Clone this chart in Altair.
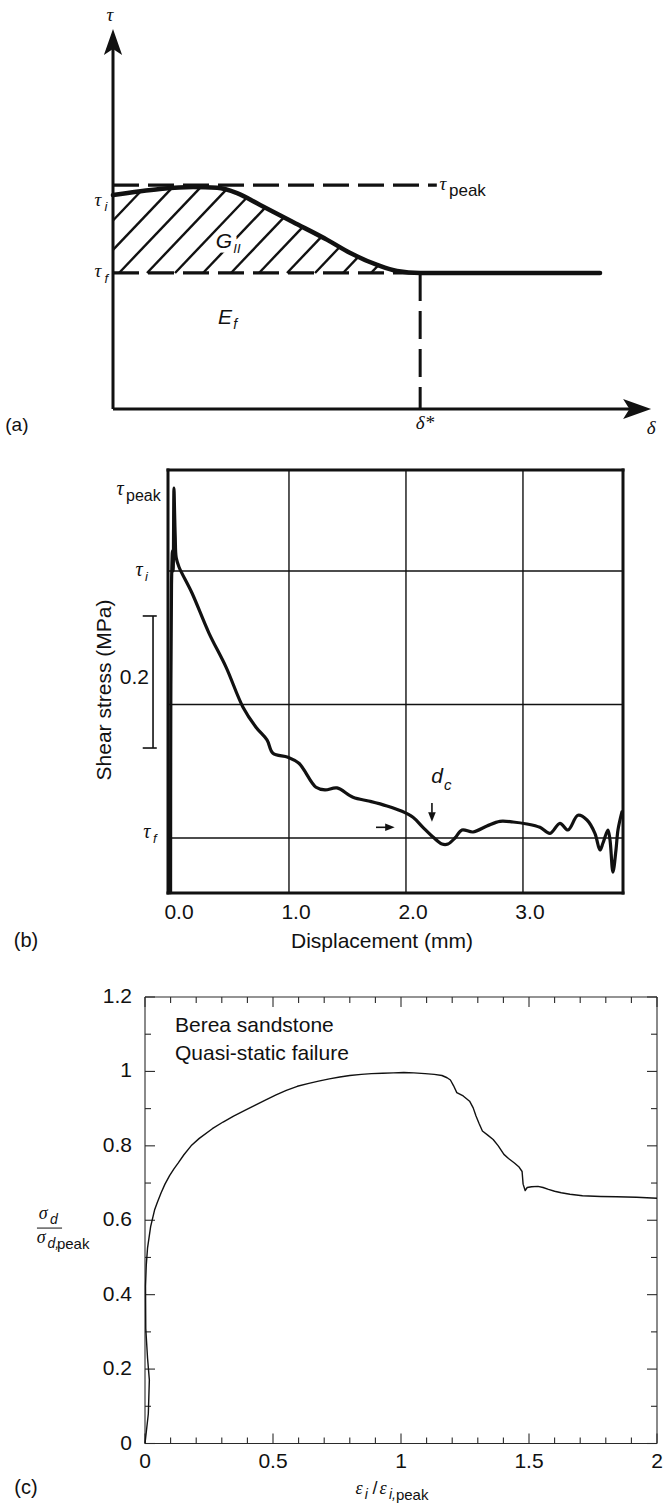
import altair as alt
import pandas as pd

SANS = "Liberation Sans"
SERIF = "Liberation Serif"
INK = "#111111"

# ===================== Panel (a): schematic =====================
a_curve_x = [0.0, 8.75, 14.9, 19.4, 23.1, 27.4, 33.5, 39.9, 44.1, 49.2, 52.9, 57.2, 90.7]
a_curve_y = [56.3, 57.9, 58.4, 58.2, 56.8, 53.7, 49.2, 44.5, 41.1, 37.9, 36.3, 35.8, 35.8]
a_tau_peak = 58.9
a_tau_f = 35.8
a_delta_star = 57.2
a_peak_dash_end = 60.3
a_axis_top = 96.6
a_axis_right = 97.6
a_hatch_intercepts = [-9.31, -4.10, 1.12, 6.33, 11.55, 16.76, 21.97, 27.19,
                      32.40, 37.62, 42.83, 48.04, 53.26]
a_hatch_slope = 1.484

# ===================== Panel (b): shear stress =====================
b_x = [-0.012, -0.010, -0.004, 0.004, 0.010, 0.017, 0.022, 0.028, 0.036, 0.060,
       0.171, 0.316, 0.462, 0.607, 0.718, 0.812, 0.863, 0.991, 1.085, 1.231,
       1.308, 1.410, 1.547, 1.692, 1.838, 1.966, 2.060, 2.145, 2.231, 2.308,
       2.359, 2.419, 2.479, 2.573, 2.692, 2.803, 2.915, 3.034, 3.145, 3.231,
       3.316, 3.385, 3.470, 3.547, 3.615, 3.658, 3.684, 3.726, 3.744, 3.769,
       3.795, 3.812, 3.846]
b_y = [0.018, 0.300, 0.480, 0.530, 0.500, 0.624, 0.590, 0.550, 0.520, 0.506,
       0.467, 0.407, 0.356, 0.296, 0.266, 0.247, 0.227, 0.221, 0.212, 0.176,
       0.172, 0.175, 0.161, 0.155, 0.148, 0.140, 0.131, 0.116, 0.1015, 0.091,
       0.091, 0.100, 0.112, 0.109, 0.118, 0.125, 0.124, 0.121, 0.116, 0.107,
       0.122, 0.112, 0.134, 0.127, 0.107, 0.082, 0.0925, 0.112, 0.097, 0.049,
       0.082, 0.112, 0.139]
b_xlim = [-0.034, 3.855]
b_ylim = [0.0176, 0.6513]
b_grid_x = [1.0, 2.0, 3.0]
b_grid_y = [0.1, 0.3, 0.5]          # tau_f, (middle), tau_i
b_tick_vals = [0.0, 1.0, 2.0, 3.0]
b_tick_labels = ["0.0", "1.0", "2.0", "3.0"]
b_bar = [0.2348, 0.4326]            # 0.2 MPa scale bar

# ===================== Panel (c): Berea sandstone =====================
c_x = [0.000, 0.013, 0.017, 0.010, 0.003, 0.002, 0.005, 0.010, 0.022, 0.038,
       0.048, 0.063, 0.078, 0.096, 0.113, 0.130, 0.152, 0.180, 0.212, 0.263,
       0.305, 0.346, 0.390, 0.429, 0.470, 0.512, 0.552, 0.595, 0.640, 0.678,
       0.720, 0.761, 0.800, 0.845, 0.885, 0.928, 0.970, 1.011, 1.050, 1.094,
       1.130, 1.160, 1.180, 1.193, 1.205, 1.218, 1.243, 1.268, 1.282, 1.293,
       1.305, 1.318, 1.340, 1.360, 1.380, 1.402, 1.420, 1.443, 1.460, 1.473,
       1.477, 1.485, 1.493, 1.510, 1.535, 1.555, 1.576, 1.600, 1.626, 1.660,
       1.709, 1.780, 1.842, 1.920, 2.000]
c_y = [0.000, 0.080, 0.171, 0.229, 0.309, 0.423, 0.480, 0.526, 0.583, 0.629,
       0.648, 0.674, 0.697, 0.720, 0.738, 0.754, 0.776, 0.800, 0.820, 0.846,
       0.864, 0.880, 0.895, 0.909, 0.923, 0.937, 0.949, 0.960, 0.968, 0.974,
       0.980, 0.985, 0.989, 0.992, 0.994, 0.995, 0.996, 0.997, 0.996, 0.994,
       0.992, 0.989, 0.983, 0.977, 0.962, 0.943, 0.934, 0.920, 0.902, 0.880,
       0.860, 0.840, 0.828, 0.817, 0.800, 0.777, 0.766, 0.754, 0.744, 0.731,
       0.697, 0.680, 0.688, 0.690, 0.691, 0.688, 0.683, 0.678, 0.674, 0.670,
       0.666, 0.664, 0.663, 0.662, 0.659]
c_xlim = [0.0, 2.0]
c_ylim = [0.0, 1.2]
c_xmajor = [0.0, 0.5, 1.0, 1.5, 2.0]
c_xmajor_labels = ["0", "0.5", "1", "1.5", "2"]
c_xminor = [0.1, 0.2, 0.3, 0.4, 0.6, 0.7, 0.8, 0.9, 1.1, 1.2, 1.3, 1.4,
            1.6, 1.7, 1.8, 1.9]
c_ymajor = [0.0, 0.2, 0.4, 0.6, 0.8, 1.0, 1.2]
c_ymajor_labels = ["0", "0.2", "0.4", "0.6", "0.8", "1", "1.2"]
c_yminor = [0.1, 0.3, 0.5, 0.7, 0.9, 1.1]

# ---------------- scales (pixel placement of each panel) ----------------
SA_X = alt.Scale(domain=[0, 100], range=[113, 650], nice=False, zero=False)
SA_Y = alt.Scale(domain=[0, 100], range=[409, 29], nice=False, zero=False)
SB_X = alt.Scale(domain=b_xlim, range=[168, 623], nice=False, zero=False)
SB_Y = alt.Scale(domain=b_ylim, range=[893, 470], nice=False, zero=False)
SC_X = alt.Scale(domain=c_xlim, range=[145, 657], nice=False, zero=False)
SC_Y = alt.Scale(domain=c_ylim, range=[1443.5, 997], nice=False, zero=False)


def X(sc):
    return alt.X("x:Q", scale=sc, axis=None)


def Y(sc):
    return alt.Y("y:Q", scale=sc, axis=None)


def line(xs, ys, sx, sy, **kw):
    df = pd.DataFrame({"x": xs, "y": ys, "i": list(range(len(xs)))})
    return alt.Chart(df).mark_line(**kw).encode(x=X(sx), y=Y(sy), order=alt.Order("i:Q"))


def segs(rows, sx, sy, **kw):
    df = pd.DataFrame(rows, columns=["x", "y", "x2", "y2"])
    return alt.Chart(df).mark_rule(**kw).encode(x=X(sx), y=Y(sy), x2="x2:Q", y2="y2:Q")


def texts(rows, sx, sy, **kw):
    df = pd.DataFrame(rows, columns=["x", "y", "t"])
    base = dict(color=INK, baseline="middle", align="center")
    base.update(kw)
    return alt.Chart(df).mark_text(**base).encode(x=X(sx), y=Y(sy), text="t:N")


def symbols(rows, sx, sy, shape, size):
    df = pd.DataFrame(rows, columns=["x", "y"])
    return alt.Chart(df).mark_point(shape=shape, size=size, filled=True, color=INK,
                                    opacity=1, strokeWidth=0).encode(x=X(sx), y=Y(sy))


def hatch_segments(cx, cy, tau_f, m, intercepts):
    rows = []
    for c in intercepts:
        x0 = max(c, 0.0)
        y0 = tau_f + m * (x0 - c)
        for k in range(len(cx) - 1):
            xa, xb = cx[k], cx[k + 1]
            if xb < x0:
                continue
            ga = cy[k] - (tau_f + m * (xa - c))
            gb = cy[k + 1] - (tau_f + m * (xb - c))
            if ga >= 0 and gb < 0:
                t = ga / (ga - gb)
                xi = xa + t * (xb - xa)
                yi = cy[k] + t * (cy[k + 1] - cy[k])
                if xi > x0:
                    rows.append((x0, y0, xi, yi))
                break
    return rows


# ===================== build panel (a) =====================
pa_layers = [
    segs([(0, 0, 0, a_axis_top), (0, 0, a_axis_right, 0)], SA_X, SA_Y,
         color=INK, strokeWidth=3),
    segs([(0, a_tau_peak, a_peak_dash_end, a_tau_peak)], SA_X, SA_Y,
         color=INK, strokeWidth=3.2, strokeDash=[26, 9]),
    segs([(0, a_tau_f, a_delta_star, a_tau_f)], SA_X, SA_Y,
         color=INK, strokeWidth=3.2, strokeDash=[26, 9]),
    segs([(a_delta_star, a_tau_f, a_delta_star, 0)], SA_X, SA_Y,
         color=INK, strokeWidth=3, strokeDash=[28, 10]),
    segs(hatch_segments(a_curve_x, a_curve_y, a_tau_f, a_hatch_slope, a_hatch_intercepts),
         SA_X, SA_Y, color=INK, strokeWidth=2.4),
    line(a_curve_x, a_curve_y, SA_X, SA_Y, color=INK, strokeWidth=4.5,
         strokeCap="round", strokeJoin="round", interpolate="monotone"),
    symbols([(0, a_axis_top)], SA_X, SA_Y, "M0,-1L0.7,1L0,0.55L-0.7,1Z", 676),
    symbols([(a_axis_right, 0)], SA_X, SA_Y, "M1,0L-1,0.72L-0.55,0L-1,-0.72Z", 784),
    # G_II halo (white gap in hatching) + labels
    texts([(20.67, 43.9, "G")], SA_X, SA_Y, font=SANS, fontStyle="italic", fontSize=21,
          color="white", stroke="white", strokeWidth=9),
    texts([(20.67, 43.9, "G")], SA_X, SA_Y, font=SANS, fontStyle="italic", fontSize=21),
    texts([(22.4, 42.1, "II")], SA_X, SA_Y, font=SANS, fontStyle="italic", fontSize=13,
          align="left"),
    texts([(20.86, 23.9, "E")], SA_X, SA_Y, font=SANS, fontStyle="italic", fontSize=21),
    texts([(22.4, 22.1, "f")], SA_X, SA_Y, font=SANS, fontStyle="italic", fontSize=14,
          align="left"),
    texts([(-0.56, 103.7, "τ"), (61.45, 59.2, "τ"), (-2.79, 55.0, "τ"), (-2.79, 36.3, "τ"),
           (58.1, -3.7, "δ*"), (100.2, -5.0, "δ")],
          SA_X, SA_Y, font=SERIF, fontStyle="italic", fontSize=19),
    texts([(62.57, 57.4, "peak")], SA_X, SA_Y, font=SANS, fontSize=17, align="left"),
    texts([(-1.58, 53.2, "i"), (-1.58, 34.2, "f")], SA_X, SA_Y, font=SANS,
          fontStyle="italic", fontSize=13, align="left"),
    texts([(-17.9, -4.2, "(a)")], SA_X, SA_Y, font=SANS, fontSize=19),
]
pa = alt.layer(*pa_layers)

# ===================== build panel (b) =====================
pb_layers = [
    segs([(gx, b_ylim[0], gx, b_ylim[1]) for gx in b_grid_x], SB_X, SB_Y,
         color=INK, strokeWidth=1.4),
    segs([(b_xlim[0], gy, b_xlim[1], gy) for gy in b_grid_y], SB_X, SB_Y,
         color=INK, strokeWidth=1.4),
    segs([(b_xlim[0], b_ylim[0], b_xlim[0], b_ylim[1]),
          (b_xlim[1], b_ylim[0], b_xlim[1], b_ylim[1]),
          (b_xlim[0], b_ylim[0], b_xlim[1], b_ylim[0]),
          (b_xlim[0], b_ylim[1], b_xlim[1], b_ylim[1])], SB_X, SB_Y,
         color=INK, strokeWidth=3, strokeCap="square"),
    line(b_x, b_y, SB_X, SB_Y, color=INK, strokeWidth=3.2, strokeJoin="round",
         strokeCap="round", interpolate="catmull-rom"),
    # 0.2 MPa scale bar
    segs([(-0.162, b_bar[0], -0.162, b_bar[1]),
          (-0.25, b_bar[0], -0.13, b_bar[0]),
          (-0.25, b_bar[1], -0.13, b_bar[1])], SB_X, SB_Y, color=INK, strokeWidth=1.6),
    # d_c arrow and small right arrow
    segs([(2.222, 0.1524, 2.222, 0.138), (1.744, 0.116, 1.85, 0.116)], SB_X, SB_Y,
         color=INK, strokeWidth=1.6),
    symbols([(2.222, 0.1315)], SB_X, SB_Y, "M0,1L0.8,-1L-0.8,-1Z", 90),
    symbols([(1.863, 0.116)], SB_X, SB_Y, "M1,0L-1,0.8L-1,-0.8Z", 90),
    texts([(-0.444, 0.623, "τ"), (-0.282, 0.5015, "τ"), (-0.214, 0.109, "τ")],
          SB_X, SB_Y, font=SERIF, fontStyle="italic", fontSize=20),
    texts([(-0.393, 0.612, "peak")], SB_X, SB_Y, font=SANS, fontSize=16, align="left"),
    texts([(-0.231, 0.491, "i"), (-0.162, 0.0985, "f")], SB_X, SB_Y, font=SANS,
          fontStyle="italic", fontSize=13, align="left"),
    texts([(-0.197, 0.3397, "0.2")], SB_X, SB_Y, font=SANS, fontSize=21, align="right"),
    texts([(-0.573, 0.3217, "Shear stress (MPa)")], SB_X, SB_Y, font=SANS, fontSize=21,
          angle=270),
    texts([(v, -0.0124, s) for v, s in zip(b_tick_vals, b_tick_labels)], SB_X, SB_Y,
          font=SANS, fontSize=21, dx=7),
    texts([(1.795, -0.0558, "Displacement (mm)")], SB_X, SB_Y, font=SANS, fontSize=21),
    texts([(-1.248, -0.0543, "(b)")], SB_X, SB_Y, font=SANS, fontSize=20),
    texts([(2.265, 0.1914, "d")], SB_X, SB_Y, font=SANS, fontStyle="italic", fontSize=21),
    texts([(2.325, 0.1794, "c")], SB_X, SB_Y, font=SANS, fontStyle="italic", fontSize=15,
          align="left"),
]
pb = alt.layer(*pb_layers)

# ===================== build panel (c) =====================
tx_major = 10 / 372.0
tx_minor = 6 / 372.0
ty_major = 10 / 256.0
ty_minor = 6 / 256.0
c_ticks = []
for v in c_xmajor:
    c_ticks += [(v, 0, v, tx_major), (v, 1.2, v, 1.2 - tx_major)]
for v in c_xminor:
    c_ticks += [(v, 0, v, tx_minor), (v, 1.2, v, 1.2 - tx_minor)]
for v in c_ymajor:
    c_ticks += [(0, v, ty_major, v), (2, v, 2 - ty_major, v)]
for v in c_yminor:
    c_ticks += [(0, v, ty_minor, v), (2, v, 2 - ty_minor, v)]

pc_layers = [
    segs([(0, 0, 2, 0), (0, 1.2, 2, 1.2), (0, 0, 0, 1.2), (2, 0, 2, 1.2)], SC_X, SC_Y,
         color="#2a2a2a", strokeWidth=1.1),
    segs(c_ticks, SC_X, SC_Y, color="#2a2a2a", strokeWidth=1.1),
    line(c_x, c_y, SC_X, SC_Y, color=INK, strokeWidth=1.4, strokeJoin="round"),
    texts([(-0.0508, v, s) for v, s in zip(c_ymajor, c_ymajor_labels)], SC_X, SC_Y,
          font=SANS, fontSize=21, align="right"),
    texts([(v, -0.0497, s) for v, s in zip(c_xmajor, c_xmajor_labels)], SC_X, SC_Y,
          font=SANS, fontSize=21),
    texts([(0.117, 1.122, "Berea sandstone"), (0.117, 1.047, "Quasi-static failure")],
          SC_X, SC_Y, font=SANS, fontSize=21, align="left"),
    # y title sigma_d / sigma_d,peak and x title eps_i / eps_i,peak
    texts([(-0.398, 0.617, "σ"), (-0.406, 0.552, "σ"), (0.836, -0.122, "ε"),
           (0.930, -0.122, "ε")], SC_X, SC_Y, font=SERIF, fontStyle="italic", fontSize=18),
    texts([(-0.371, 0.601, "d"), (-0.381, 0.536, "d,"), (0.953, -0.138, "i,")],
          SC_X, SC_Y, font=SANS, fontStyle="italic", fontSize=14, align="left"),
    texts([(0.858, -0.138, "i")], SC_X, SC_Y, font=SANS, fontStyle="italic", fontSize=14,
          align="left"),
    texts([(-0.344, 0.536, "peak"), (0.980, -0.138, "peak")], SC_X, SC_Y, font=SANS,
          fontSize=15, align="left"),
    texts([(0.898, -0.122, "/")], SC_X, SC_Y, font=SANS, fontSize=18),
    segs([(-0.422, 0.579, -0.324, 0.579)], SC_X, SC_Y, color=INK, strokeWidth=1),
    texts([(-0.465, -0.1196, "(c)")], SC_X, SC_Y, font=SANS, fontSize=20),
]
pc = alt.layer(*pc_layers)

chart = (
    alt.layer(pa, pb, pc)
    .resolve_scale(x="independent", y="independent")
    .properties(width=667, height=1503, padding=0,
                autosize=alt.AutoSizeParams(type="none"), background="white")
    .configure_view(stroke=None)
)

chart.save("out.html", embed_options={"renderer": "svg", "actions": False})
